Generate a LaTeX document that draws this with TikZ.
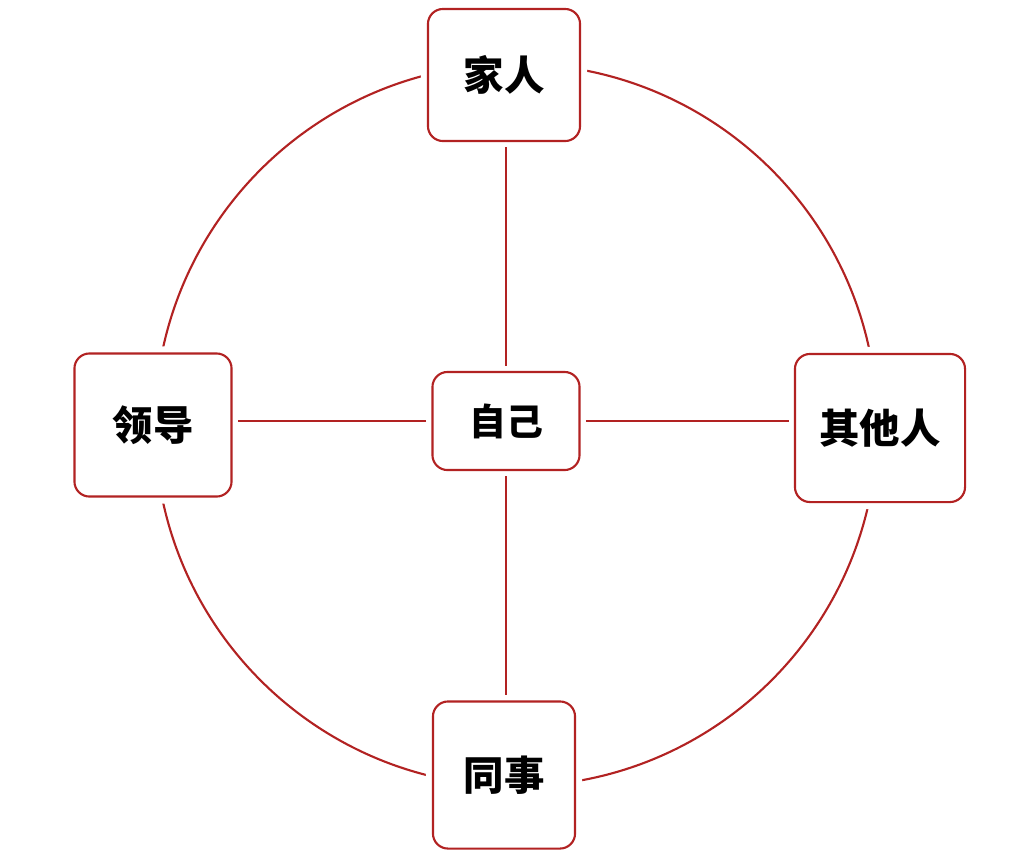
\documentclass[tikz,border=0pt]{standalone}
\usepackage{fontspec}
\setmainfont{Noto Sans CJK SC}
\definecolor{ring}{RGB}{178,34,34}
\tikzstyle{person}=[draw=ring,line width=0.6pt,fill=white,rounded corners=0.15cm,font=\fontsize{11.5}{13}\selectfont\bfseries,preaction={draw=white,line width=4pt}]
\tikzstyle{link}=[draw=ring,line width=0.6pt,shorten <=1.5pt,shorten >=1.5pt]
\begin{document}
\begin{tikzpicture}[x=0.01cm,y=-0.01cm]
  \useasboundingbox (0,0) rectangle (1018,866);
  % the ring first, the boxes cut it
  \coordinate (c) at (516,425);
  \draw[ring,line width=0.6pt] (c) circle[radius=3.61cm];
  \node[person,minimum width=1.52cm,minimum height=1.32cm] (family) at (504,75) {家人};
  \node[person,minimum width=1.57cm,minimum height=1.43cm] (boss) at (153,425) {领导};
  \node[person,minimum width=1.70cm,minimum height=1.48cm] (others) at (880,428) {其他人};
  \node[person,minimum width=1.42cm,minimum height=1.47cm] (colleague) at (504,775) {同事};
  \node[person,minimum width=1.47cm,minimum height=0.98cm,font=\fontsize{10.5}{12}\selectfont\bfseries] (me) at (506,421) {自己};
  % spokes
  \path[link] (me.north) -- (me.north |- family.south);
  \path[link] (me.south) -- (me.south |- colleague.north);
  \path[link] (me.west) -- (boss.east |- me.west);
  \path[link] (me.east) -- (others.west |- me.east);
\end{tikzpicture}
\end{document}
